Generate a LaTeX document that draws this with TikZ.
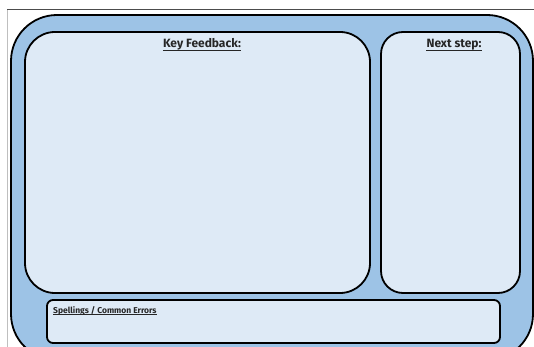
\documentclass[tikz,border=0pt]{standalone}
\usepackage{fontspec}
\setmainfont{Fira Sans}
\definecolor{outerblue}{HTML}{9DC3E6}
\definecolor{innerblue}{HTML}{DEEAF6}
\begin{document}
\begin{tikzpicture}[x=1pt,y=-1pt,
  panel/.style={draw=black,line width=1.8pt,fill=innerblue},
  title/.style={font=\fontsize{12}{13}\selectfont\bfseries,text=black!85,anchor=base,inner sep=0pt},
  uline/.style={line width=0.9pt,black!85}]
\useasboundingbox (0,0) rectangle (534,347);
\begin{scope}
\clip (0,0) rectangle (534,347);
\draw[black!70,line width=1pt] (7,10) -- (534,10);
\draw[black!25,line width=0.6pt] (7,10) -- (7,347);
\draw[draw=black,line width=1.8pt,fill=outerblue,rounded corners=46pt] (11,15) rectangle (533,360);
\end{scope}
\draw[panel,rounded corners=30pt] (25,32) rectangle (370,293);
\draw[panel,rounded corners=22pt] (381,32) rectangle (520,293);
\draw[panel,rounded corners=6pt] (47,300) rectangle (500,343);
\node[title] (kf) at (202,48) {Key Feedback:};
\draw[uline] ([yshift=-2pt]kf.base west) -- ([yshift=-2pt]kf.base east);
\node[title] (ns) at (454,48) {Next step:};
\draw[uline] ([yshift=-2pt]ns.base west) -- ([yshift=-2pt]ns.base east);
\node[anchor=base west,font=\fontsize{8.5}{9}\selectfont\bfseries,text=black!85,inner sep=0pt] (sp) at (53,313) {Spellings / Common Errors};
\draw[line width=0.6pt,black!85] ([yshift=-1.5pt]sp.base west) -- ([yshift=-1.5pt]sp.base east);
\end{tikzpicture}
\end{document}
